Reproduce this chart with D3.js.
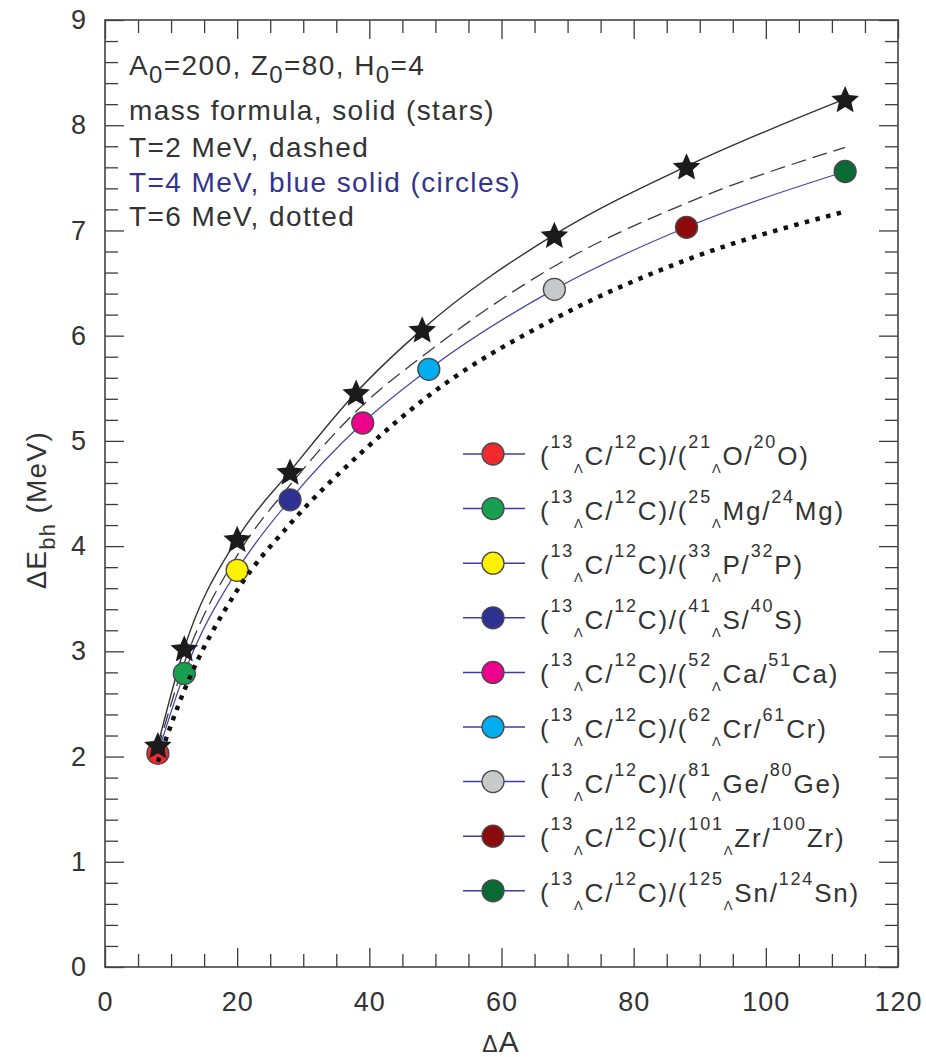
<!DOCTYPE html>
<html>
<head>
<meta charset="utf-8">
<script src="https://cdn.jsdelivr.net/npm/d3@7"></script>
<style>
  html, body { margin: 0; padding: 0; background: #fff; }
  svg { display: block; }
  text { font-family: "Liberation Sans", Arial, Helvetica, sans-serif; fill: #333; }
</style>
</head>
<body>
<script>
// ΔE_bh versus ΔA : mass formula (stars) and finite-temperature curves
const starDA   = [8, 12, 20, 28, 38, 48, 68, 88, 112];
const starE    = [2.11, 3.03, 4.07, 4.71, 5.46, 6.06, 6.96, 7.61, 8.25];

const pairDA   = [8, 12, 20, 28, 39, 49, 68, 88, 112];
const t2E      = [2.07, 2.89, 3.91, 4.58, 5.34, 5.85, 6.66, 7.26, 7.79];   // T = 2 MeV (dashed)
const t4E      = [2.03, 2.79, 3.77, 4.44, 5.17, 5.68, 6.44, 7.03, 7.56];   // T = 4 MeV (blue, circles)
const t6E      = [1.95, 2.63, 3.58, 4.21, 4.90, 5.43, 6.16, 6.72, 7.18];   // T = 6 MeV (dotted)

const hyperMass = ["21", "25", "33", "41", "52", "62", "81", "101", "125"];
const coreMass  = ["20", "24", "32", "40", "51", "61", "80", "100", "124"];
const elements  = ["O", "Mg", "P", "S", "Ca", "Cr", "Ge", "Zr", "Sn"];
const pairColors = ["#ee2a2e", "#16a04f", "#fff200", "#2e3192", "#ec008c",
                    "#00aeef", "#c8c9cb", "#8d0a0c", "#0a6a33"];

const xMajor = [0, 20, 40, 60, 80, 100, 120];
const yMajor = [0, 1, 2, 3, 4, 5, 6, 7, 8, 9];

const notes = [
  { parts: [["A", 0], ["0", 1], ["=200, Z", 0], ["0", 1], ["=80, H", 0], ["0", 1], ["=4", 0]], color: "#333" },
  { parts: [["mass formula, solid (stars)", 0]], color: "#333" },
  { parts: [["T=2 MeV, dashed", 0]], color: "#333" },
  { parts: [["T=4 MeV, blue solid (circles)", 0]], color: "#34348e" },
  { parts: [["T=6 MeV, dotted", 0]], color: "#333" }
];

const W = 926, H = 1057;
const svg = d3.select("body").append("svg").attr("width", W).attr("height", H);

const x = d3.scaleLinear().domain([0, 120]).range([105, 898]);
const y = d3.scaleLinear().domain([0, 9]).range([967, 20]);

const xMinor = d3.range(0, 121, 5).filter(v => v % 20 !== 0);
const yMinor = d3.range(0, 9.001, 0.2).map(v => +v.toFixed(1)).filter(v => Math.abs(v - Math.round(v)) > 1e-6);

// ---- axes (ticks pointing inward on all four sides)
const axisG = svg.append("g").attr("class", "axes");
function styleAxis(sel) {
  sel.select(".domain").remove();
  sel.selectAll(".tick line").attr("stroke", "#3c3c3c").attr("stroke-width", 1.3);
  sel.selectAll(".tick text")
    .style("font-size", "27px").style("letter-spacing", "1px").attr("fill", "#333");
}
axisG.append("g").attr("transform", `translate(0,${y(0)})`)
  .call(d3.axisBottom(x).tickValues(xMajor).tickSize(-19).tickPadding(25).tickFormat(d3.format("d")))
  .call(styleAxis);
axisG.append("g").attr("transform", `translate(0,${y(0)})`)
  .call(d3.axisBottom(x).tickValues(xMinor).tickSize(-13).tickFormat(""))
  .call(styleAxis);
axisG.append("g").attr("transform", `translate(0,${y(9)})`)
  .call(d3.axisTop(x).tickValues(xMajor).tickSize(-19).tickFormat(""))
  .call(styleAxis);
axisG.append("g").attr("transform", `translate(0,${y(9)})`)
  .call(d3.axisTop(x).tickValues(xMinor).tickSize(-13).tickFormat(""))
  .call(styleAxis);
axisG.append("g").attr("transform", `translate(${x(0)},0)`)
  .call(d3.axisLeft(y).tickValues(yMajor).tickSize(-19).tickPadding(18).tickFormat(d3.format("d")))
  .call(styleAxis);
axisG.append("g").attr("transform", `translate(${x(0)},0)`)
  .call(d3.axisLeft(y).tickValues(yMinor).tickSize(-13).tickFormat(""))
  .call(styleAxis);
axisG.append("g").attr("transform", `translate(${x(120)},0)`)
  .call(d3.axisRight(y).tickValues(yMajor).tickSize(-19).tickFormat(""))
  .call(styleAxis);
axisG.append("g").attr("transform", `translate(${x(120)},0)`)
  .call(d3.axisRight(y).tickValues(yMinor).tickSize(-13).tickFormat(""))
  .call(styleAxis);

axisG.append("rect")
  .attr("x", x(0)).attr("y", y(9))
  .attr("width", x(120) - x(0)).attr("height", y(0) - y(9))
  .attr("fill", "none").attr("stroke", "#444").attr("stroke-width", 1.6);

// ---- axis titles
const xt = svg.append("text").attr("x", 501).attr("y", 1052).attr("text-anchor", "middle")
  .style("letter-spacing", "1px");
xt.append("tspan").style("font-size", "23px").text("Δ");
xt.append("tspan").style("font-size", "30px").text("A");

const yt = svg.append("text")
  .attr("transform", "translate(46,510) rotate(-90)")
  .attr("text-anchor", "middle").style("letter-spacing", "1.3px");
yt.append("tspan").style("font-size", "27px").text("Δ");
yt.append("tspan").style("font-size", "28px").text("E");
yt.append("tspan").style("font-size", "22px").attr("dy", 9).text("bh");
yt.append("tspan").style("font-size", "28px").attr("dy", -9).text(" (MeV)");

// ---- curves
const pts = (xs, ys) => xs.map((d, i) => [d, ys[i]]);
const line = d3.line().x(d => x(d[0])).y(d => y(d[1])).curve(d3.curveMonotoneX);
const plot = svg.append("g");

plot.append("path").attr("d", line(pts(pairDA, t4E)))
  .attr("fill", "none").attr("stroke", "#4545a8").attr("stroke-width", 1.2);
plot.append("path").attr("d", line(pts(starDA, starE)))
  .attr("fill", "none").attr("stroke", "#333").attr("stroke-width", 1.4);
plot.append("path").attr("d", line(pts(pairDA, t2E)))
  .attr("fill", "none").attr("stroke", "#3a3a3a").attr("stroke-width", 1.3)
  .attr("stroke-dasharray", "15,7");

plot.selectAll("circle.pt").data(pts(pairDA, t4E)).join("circle")
  .attr("class", "pt")
  .attr("cx", d => x(d[0])).attr("cy", d => y(d[1])).attr("r", 11)
  .attr("fill", (d, i) => pairColors[i]).attr("stroke", "#4a4a4a").attr("stroke-width", 1.3);

plot.append("path").attr("d", line(pts(pairDA, t6E)))
  .attr("fill", "none").attr("stroke", "#111").attr("stroke-width", 4.5)
  .attr("stroke-dasharray", "4.5,6.5");

// five-pointed star with a fuller body than d3.symbolStar
const fatStar = {
  draw(ctx, size) {
    const R = Math.sqrt(size), r = R * 0.46;
    for (let k = 0; k < 10; k++) {
      const a = -Math.PI / 2 + k * Math.PI / 5;
      const rr = k % 2 ? r : R;
      const px = rr * Math.cos(a), py = rr * Math.sin(a);
      k ? ctx.lineTo(px, py) : ctx.moveTo(px, py);
    }
    ctx.closePath();
  }
};
const star = d3.symbol().type(fatStar).size(14.5 * 14.5);
plot.selectAll("path.star").data(pts(starDA, starE)).join("path")
  .attr("class", "star")
  .attr("d", star)
  .attr("transform", d => `translate(${x(d[0])},${y(d[1]) + 1.5})`)
  .attr("fill", "#1b1b1b");

// ---- annotation block (top left)
const noteBase = [75, 120, 156.5, 191.5, 226];
notes.forEach((n, i) => {
  const t = svg.append("text").attr("x", 129).attr("y", noteBase[i])
    .style("font-size", "28px").style("letter-spacing", "1.4px").attr("fill", n.color);
  n.parts.forEach(([s, sub]) => {
    const ts = t.append("tspan").attr("fill", n.color).text(s);
    ts.attr("y", noteBase[i] + (sub ? 8 : 0));
    if (sub) ts.style("font-size", "24px");
  });
});

// ---- legend
const legX = 493, legY0 = 454, legStep = 54.6, legTextX = 540;
const leg = svg.append("g");
elements.forEach((el, i) => {
  const cy = legY0 + i * legStep;
  leg.append("line").attr("x1", 463).attr("x2", 525).attr("y1", cy).attr("y2", cy)
    .attr("stroke", "#3c3cb0").attr("stroke-width", 1.5);
  leg.append("circle").attr("cx", legX).attr("cy", cy).attr("r", 11)
    .attr("fill", pairColors[i]).attr("stroke", "#4a4a4a").attr("stroke-width", 1.3);

  const base = cy + 11;
  const t = leg.append("text").attr("x", legTextX).attr("y", base)
    .style("letter-spacing", "1.8px");
  const seg = [
    ["(", "n"], ["13", "sup"], ["Λ", "sub"], ["C/", "n"], ["12", "sup"], ["C)/(", "n"],
    [hyperMass[i], "sup"], ["Λ", "sub"], [el + "/", "n"], [coreMass[i], "sup"], [el + ")", "n"]
  ];
  seg.forEach(([s, kind]) => {
    const ts = t.append("tspan").text(s);
    if (kind === "sup") ts.attr("y", base - 17).style("font-size", "18px");
    else if (kind === "sub") ts.attr("y", base + 8).style("font-size", "13px");
    else ts.attr("y", base).style("font-size", "26px");
  });
});
</script>
</body>
</html>
